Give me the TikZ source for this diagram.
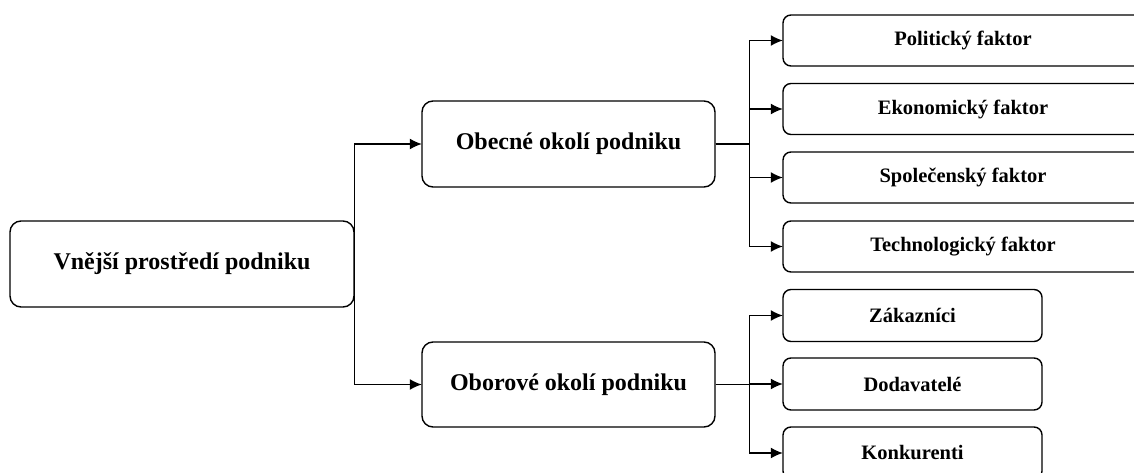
\documentclass[tikz,border=0pt]{standalone}
\usepackage{fontspec}
\setmainfont{Liberation Serif}
\usetikzlibrary{arrows.meta}
\tikzset{
  bigbox/.style={draw, line width=1.4pt, rounded corners=11pt, font=\fontsize{24}{28}\selectfont\bfseries, inner sep=0pt},
  smallbox/.style={draw, line width=1.4pt, rounded corners=8pt, font=\fontsize{20.5}{24}\selectfont\bfseries, inner sep=0pt},
  conn/.style={line width=1.4pt, -{Latex[length=12pt,width=11pt]}, shorten >=-0.5pt}
}
\begin{document}
\begin{tikzpicture}[x=1pt,y=-1pt]
\useasboundingbox (0,0) rectangle (1134,473);
\node[bigbox, minimum width=344pt, minimum height=86pt] (root) at (182,264) {Vnější prostředí podniku};
\node[bigbox, minimum width=293pt, minimum height=86pt] (obecne) at (568.5,144) {Obecné okolí podniku};
\node[bigbox, minimum width=293pt, minimum height=85pt] (oborove) at (568.5,384.5) {Oborové okolí podniku};
\node[smallbox, minimum width=360pt, minimum height=51pt] (pol) at (963,40.5) {Politický faktor};
\node[smallbox, minimum width=360pt, minimum height=51pt] (eko) at (963,109) {Ekonomický faktor};
\node[smallbox, minimum width=360pt, minimum height=51pt] (spo) at (963,177.5) {Společenský faktor};
\node[smallbox, minimum width=360pt, minimum height=51pt] (tech) at (963,246.5) {Technologický faktor};
\node[smallbox, minimum width=259pt, minimum height=52pt] (zak) at (912.5,315.5) {Zákazníci};
\node[smallbox, minimum width=259pt, minimum height=52pt] (dod) at (912.5,384) {Dodavatelé};
\node[smallbox, minimum width=259pt, minimum height=52pt] (kon) at (912.5,453) {Konkurenti};
\draw[conn] (root.east) |- (obecne.west);
\draw[conn] (root.east) |- (oborove.west);
\foreach \t in {pol,eko,spo,tech}
  \draw[conn] (obecne.east) -- ++(34,0) |- (\t.west);
\foreach \t in {zak,dod,kon}
  \draw[conn] (oborove.east) -- ++(34,0) |- (\t.west);
\end{tikzpicture}
\end{document}
